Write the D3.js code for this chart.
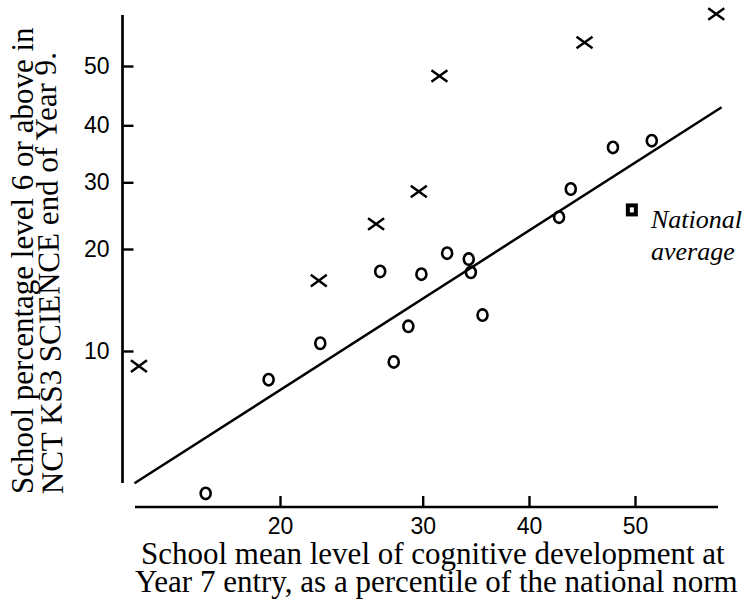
<!DOCTYPE html>
<html><head><meta charset="utf-8">
<script src="https://cdn.jsdelivr.net/npm/d3@7"></script>
<style>body{margin:0;background:#fff}</style>
</head><body>
<svg id="c" width="752" height="600"></svg>
<script>
// ---- data (percentiles / percentages) ----
const xTicks = [20, 30, 40, 50];
const yTicks = [10, 20, 30, 40, 50];
const crossX = [12.4, 22.5, 26.5, 29.7, 31.5, 45.2, 57.7];
const crossY = [8.9, 16.4, 23.5, 28.5, 48.3, 54.0, 58.8];
const circleX = [15.7, 19.3, 22.6, 26.8, 27.8, 28.9, 29.9, 32.2, 34.2, 34.4, 35.5, 42.8, 43.9, 47.9, 51.6];
const circleY = [2.9, 8.0, 10.6, 17.4, 9.2, 12.0, 17.1, 19.5, 18.8, 17.3, 13.0, 24.5, 28.9, 36.0, 37.2];
const nationalX = [49.7];
const nationalY = [25.6];
const fitX = [12.2, 58.2];
const fitY = [3.2, 43.0];
const nationalLabel = ["National", "average"];
const xTitle = ["School mean level of cognitive development at", "Year 7 entry, as a percentile of the national norm"];
const yTitle = ["School percentage level 6 or above in", "NCT KS3 SCIENCE end of Year 9."];

// inverse normal CDF (probability scale)
function probit(p) {
  const a = [-3.969683028665376e+01, 2.209460984245205e+02, -2.759285104469687e+02, 1.383577518672690e+02, -3.066479806614716e+01, 2.506628277459239e+00];
  const b = [-5.447609879822406e+01, 1.615858368580409e+02, -1.556989798598866e+02, 6.680131188771972e+01, -1.328068155288572e+01];
  const c = [-7.784894002430293e-03, -3.223964580411365e-01, -2.400758277161838e+00, -2.549732539343734e+00, 4.374664141464968e+00, 2.938163982698783e+00];
  const d = [7.784695709041462e-03, 3.224671290700398e-01, 2.445134137142996e+00, 3.754408661907416e+00];
  const pl = 0.02425, ph = 1 - pl; let q, r;
  if (p < pl) { q = Math.sqrt(-2 * Math.log(p)); return (((((c[0]*q+c[1])*q+c[2])*q+c[3])*q+c[4])*q+c[5]) / ((((d[0]*q+d[1])*q+d[2])*q+d[3])*q+1); }
  if (p <= ph) { q = p - 0.5; r = q*q; return (((((a[0]*r+a[1])*r+a[2])*r+a[3])*r+a[4])*r+a[5])*q / (((((b[0]*r+b[1])*r+b[2])*r+b[3])*r+b[4])*r+1); }
  q = Math.sqrt(-2 * Math.log(1 - p)); return -(((((c[0]*q+c[1])*q+c[2])*q+c[3])*q+c[4])*q+c[5]) / ((((d[0]*q+d[1])*q+d[2])*q+d[3])*q+1);
}
const pz = v => probit(v / 100);

const svg = d3.select("#c");
const xs = d3.scaleLinear().domain(xTicks.map(pz)).range([280, 422.7, 529, 635]);
const ys = d3.scaleLinear().domain(yTicks.map(pz)).range([351, 249, 182.3, 125.3, 66]);
const X = v => xs(pz(v)), Y = v => ys(pz(v));

const yAxisX = 122.5, xAxisY = 507;
const sans = "Liberation Sans, Arial, sans-serif";
const serif = "Liberation Serif, Times New Roman, serif";

// y axis
const gy = svg.append("g").attr("transform", `translate(${yAxisX},0)`)
  .call(d3.axisLeft(ys).tickValues(yTicks.map(pz)).tickFormat((d, i) => yTicks[i])
    .tickSizeInner(-11).tickSizeOuter(0).tickPadding(13));
gy.select(".domain").remove();
gy.selectAll(".tick line").attr("stroke", "#000").attr("stroke-width", 2.4);
gy.selectAll(".tick text").attr("font-family", sans).attr("font-size", 23).attr("fill", "#000");
svg.append("line").attr("x1", yAxisX).attr("x2", yAxisX).attr("y1", 15).attr("y2", 483)
  .attr("stroke", "#000").attr("stroke-width", 2.7);

// x axis
const gx = svg.append("g").attr("transform", `translate(0,${xAxisY})`)
  .call(d3.axisBottom(xs).tickValues(xTicks.map(pz)).tickFormat((d, i) => xTicks[i])
    .tickSizeInner(-11).tickSizeOuter(0).tickPadding(11));
gx.select(".domain").remove();
gx.selectAll(".tick line").attr("stroke", "#000").attr("stroke-width", 2.4);
gx.selectAll(".tick text").attr("font-family", sans).attr("font-size", 23).attr("fill", "#000");
svg.append("line").attr("x1", 135).attr("x2", 718).attr("y1", xAxisY).attr("y2", xAxisY)
  .attr("stroke", "#000").attr("stroke-width", 2.7);

// regression line
const fit = fitX.map((v, i) => [v, fitY[i]]);
svg.append("path").datum(fit)
  .attr("d", d3.line().x(d => X(d[0])).y(d => Y(d[1])))
  .attr("fill", "none").attr("stroke", "#000").attr("stroke-width", 2.5);

// circles
const circ = circleX.map((v, i) => [v, circleY[i]]);
svg.append("g").selectAll("ellipse").data(circ).join("ellipse")
  .attr("cx", d => X(d[0])).attr("cy", d => Y(d[1])).attr("rx", 5).attr("ry", 5.7)
  .attr("fill", "none").attr("stroke", "#000").attr("stroke-width", 2.6);

// crosses
const cross = crossX.map((v, i) => [v, crossY[i]]);
const hw = 8, hh = 5.8;
svg.append("g").selectAll("path").data(cross).join("path")
  .attr("d", d => { const cx = X(d[0]), cy = Y(d[1]);
    return `M${cx-hw},${cy-hh}L${cx+hw},${cy+hh}M${cx-hw},${cy+hh}L${cx+hw},${cy-hh}`; })
  .attr("fill", "none").attr("stroke", "#000").attr("stroke-width", 2.5);

// national average square
const nat = nationalX.map((v, i) => [v, nationalY[i]]);
svg.append("g").selectAll("rect").data(nat).join("rect")
  .attr("x", d => X(d[0]) - 4).attr("y", d => Y(d[1]) - 4.5).attr("width", 8).attr("height", 9)
  .attr("fill", "#fff").attr("stroke", "#000").attr("stroke-width", 4);
svg.append("g").selectAll("text").data(nationalLabel).join("text")
  .attr("x", 651).attr("y", (d, i) => 228 + i * 32)
  .attr("font-family", serif).attr("font-style", "italic")
  .attr("font-size", 26).attr("fill", "#000").text(d => d);

// axis titles
svg.append("g").selectAll("text").data(xTitle).join("text")
  .attr("x", (d, i) => i === 0 ? 141 : 135).attr("y", (d, i) => 564 + i * 28)
  .attr("font-family", serif).attr("font-size", 31)
  .attr("fill", "#000").text(d => d);
svg.append("g").selectAll("text").data(yTitle).join("text")
  .attr("transform", (d, i) => i === 0 ? "translate(33,494) rotate(-90)" : "translate(63,494) rotate(-91)")
  .attr("font-family", serif).attr("font-size", 31)
  .attr("fill", "#000").text(d => d);
</script>
</body></html>
